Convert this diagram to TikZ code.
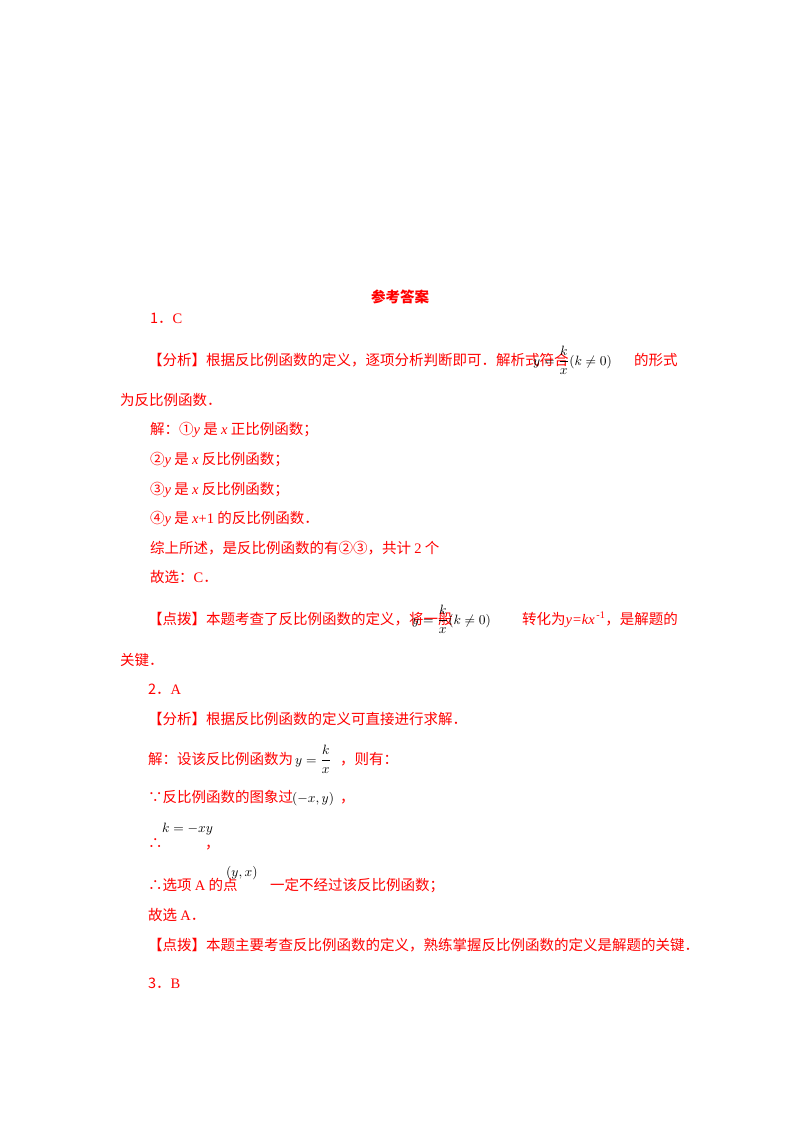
\documentclass[tikz,border=0pt]{standalone}
\usepackage{amsmath}
\usepackage{graphicx}
\usepackage{fontspec}
\setmainfont{Liberation Serif}
\newfontfamily\cjk{Noto Sans CJK SC}
\definecolor{ans}{RGB}{255,0,0}
\newcommand{\mbig}[1]{\scalebox{1.35}{$#1$}}
\begin{document}
\begin{tikzpicture}[x=1pt,y=-1pt,
  t/.style={anchor=base west,inner sep=0,text=ans,font=\fontsize{14.5}{16}\selectfont\cjk},
  m/.style={anchor=base west,inner sep=0,text=black}]
\useasboundingbox (0,0) rectangle (800,1132);
\node[t,anchor=base,font=\fontsize{14.5}{16}\selectfont\cjk\bfseries] (title) at (400,302) {参考答案};
\node[t] (q1) at (150,323) {1．\textrm{C}};
\node[t] (a1) at (148,365) {【分析】根据反比例函数的定义，逐项分析判断即可．解析式符合};
\node[m] (f1) at (533,365) {\mbig{y=\dfrac{k}{x}(k\neq0)}};
\node[t] (a1b) at (634,365) {的形式};
\node[t] (a2) at (120,405) {为反比例函数．};
\node[t] (s1) at (150,434) {解：①\textit{\textrm{y}} 是 \textit{\textrm{x}} 正比例函数；};
\node[t] (s2) at (150,464) {②\textit{\textrm{y}} 是 \textit{\textrm{x}} 反比例函数；};
\node[t] (s3) at (150,494) {③\textit{\textrm{y}} 是 \textit{\textrm{x}} 反比例函数；};
\node[t] (s4) at (150,523) {④\textit{\textrm{y}} 是 \textit{\textrm{x}}\textrm{+1} 的反比例函数．};
\node[t] (s5) at (150,553) {综上所述，是反比例函数的有②③，共计 \textrm{2} 个};
\node[t] (s6) at (150,582) {故选：\textrm{C}．};
\node[t] (d1) at (148,624) {【点拨】本题考查了反比例函数的定义，将一般};
\node[m] (f2) at (412,624) {\mbig{y=\dfrac{k}{x}(k\neq0)}};
\node[t] (d1b) at (522,624) {转化为\textit{\textrm{y=kx}}\textsuperscript{\textrm{\,-1}}，是解题的};
\node[t] (d2) at (120,665) {关键．};
\node[t] (q2) at (148,694) {2．\textrm{A}};
\node[t] (b1) at (148,724) {【分析】根据反比例函数的定义可直接进行求解．};
\node[t] (b2) at (148,764) {解：设该反比例函数为};
\node[m] (f3) at (295,764) {\mbig{y=\dfrac{k}{x}}};
\node[t] (b2b) at (340,764) {，则有：};
\node[t] (b3) at (148,802) {∵反比例函数的图象过};
\node[m] (f4) at (292,802) {\mbig{(-x,y)}};
\node[t] (b3b) at (340,802) {，};
\node[t] (b4) at (148,848) {∴};
\node[m] (f5) at (162,832) {\mbig{k=-xy}};
\node[t] (b4b) at (205,848) {，};
\node[t] (b5) at (148,890) {∴选项 \textrm{A} 的点};
\node[m] (f6) at (226,876) {\mbig{(y,x)}};
\node[t] (b5b) at (270,890) {一定不经过该反比例函数；};
\node[t] (b6) at (148,920) {故选 \textrm{A}．};
\node[t] (b7) at (148,950) {【点拨】本题主要考查反比例函数的定义，熟练掌握反比例函数的定义是解题的关键．};
\node[t] (q3) at (148,988) {3．\textrm{B}};
\end{tikzpicture}
\end{document}
